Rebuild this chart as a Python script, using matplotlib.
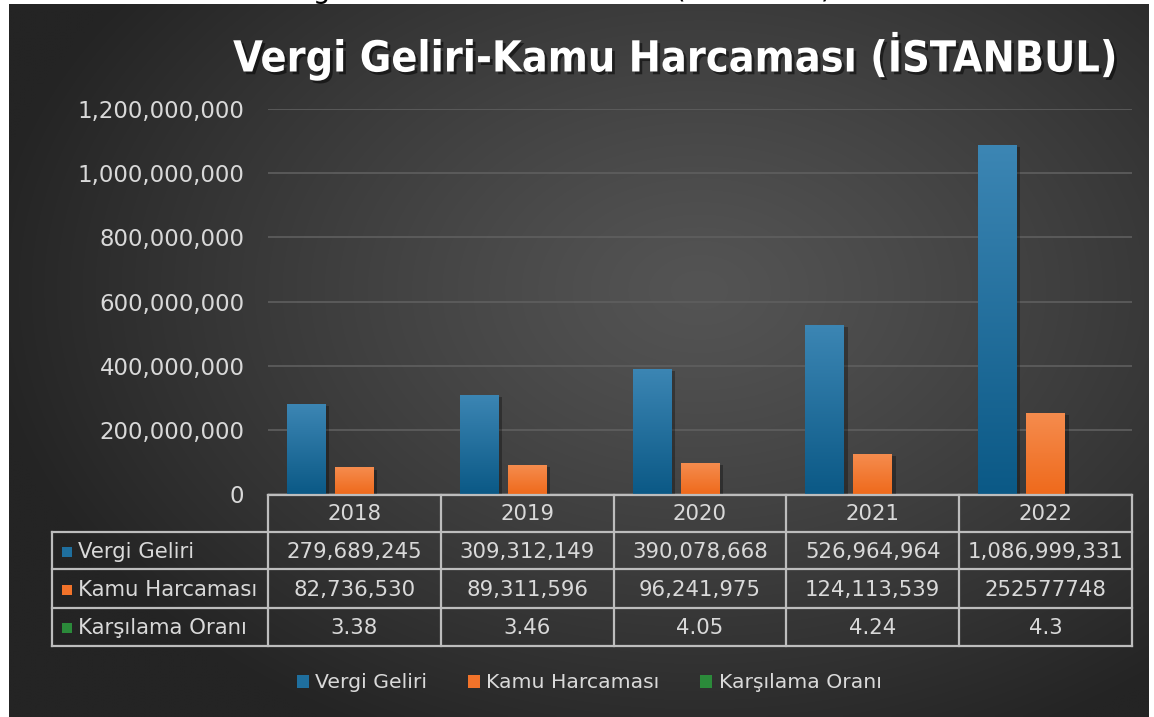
import numpy as np
import matplotlib
matplotlib.use("Agg")
import matplotlib.pyplot as plt
from matplotlib import patheffects as pe
from matplotlib.patches import Rectangle, Patch
from matplotlib.colors import LinearSegmentedColormap, to_rgb

# ---- data -------------------------------------------------------------
years = ["2018", "2019", "2020", "2021", "2022"]
vergi_geliri = [279689245, 309312149, 390078668, 526964964, 1086999331]
kamu_harcamasi = [82736530, 89311596, 96241975, 124113539, 252577748]
karsilama_orani = [3.38, 3.46, 4.05, 4.24, 4.3]
series_names = ["Vergi Geliri", "Kamu Harcaması", "Karşılama Oranı"]
y_ticks = [0, 200000000, 400000000, 600000000, 800000000, 1000000000, 1200000000]
title = "Vergi Geliri-Kamu Harcaması (İSTANBUL)"

# the 2022 spending cell is entered without thousands separators
kamu_plain = [False, False, False, False, True]

# ---- styling ----------------------------------------------------------
W, H = 1154, 717
TXT = "#d9d9d9"
GRID = "#5f5f5f"
BORDER = "#bdbdbd"
base_colors = ["#1f6f9e", "#f2732a", "#2b8a3a"]
grad_colors = [("#3c86b4", "#0b5986"), ("#f58c4e", "#ef6a1c"), ("#3a9a48", "#1f7a2e")]

fig = plt.figure(figsize=(W / 100, H / 100), dpi=100, facecolor="white")

# background layer in pixel coordinates
bg = fig.add_axes([0, 0, 1, 1], zorder=0)
bg.set_xlim(0, W)
bg.set_ylim(H, 0)
bg.axis("off")

x0, x1, y0, y1 = 9, 1149, 4, H
gx = np.linspace(x0, x1, 400)
gy = np.linspace(y0, y1, 260)
GX, GY = np.meshgrid(gx, gy)
d = np.sqrt(((GX - 700) / 720) ** 2 + ((GY - 290) / 500) ** 2)
t = np.clip(d, 0, 1) ** 1.2
inner = np.array(to_rgb("#545454"))
outer = np.array(to_rgb("#242424"))
img = inner[None, None, :] * (1 - t[..., None]) + outer[None, None, :] * t[..., None]
bg.imshow(img, extent=[x0, x1, y1, y0], aspect="auto", interpolation="bilinear")
bg.set_xlim(0, W)
bg.set_ylim(H, 0)

# ---- bar chart ---------------------------------------------------------
ax = fig.add_axes([268 / W, (H - 494) / H, 864 / W, 385 / H], zorder=1)
ax.patch.set_alpha(0)
x = np.arange(len(years))
offsets = [-0.278, 0.0, 0.278]
bar_w = 0.225
all_series = [vergi_geliri, kamu_harcamasi, karsilama_orani]

for s, vals in enumerate(all_series):
    bars = ax.bar(x + offsets[s], vals, width=bar_w, color=base_colors[s], zorder=3,
                  linewidth=0)
    cmap = LinearSegmentedColormap.from_list(f"g{s}", [grad_colors[s][1], grad_colors[s][0]])
    for rect in bars:
        rect.set_path_effects([pe.SimplePatchShadow(offset=(2.5, -1.5), shadow_rgbFace="black",
                                                    alpha=0.3), pe.Normal()])
        bx, bw, bh = rect.get_x(), rect.get_width(), rect.get_height()
        grad = np.linspace(0, 1, 128).reshape(-1, 1)
        im = ax.imshow(grad, extent=[bx, bx + bw, 0, bh], origin="lower", aspect="auto",
                       cmap=cmap, zorder=3.5, interpolation="bilinear")
        im.set_clip_path(rect)

ax.set_xlim(-0.5, len(years) - 0.5)
ax.set_ylim(0, 1200000000)
ax.set_aspect("auto")
ax.set_yticks(y_ticks)
ax.set_yticklabels([f"{v:,}" for v in y_ticks])
ax.set_xticks([])
ax.tick_params(axis="y", length=0, pad=17, labelsize=16.5, labelcolor=TXT)
for sp in ax.spines.values():
    sp.set_visible(False)
ax.yaxis.grid(True, color=GRID, linewidth=1.2)
ax.set_axisbelow(True)

# ---- data table --------------------------------------------------------
fg = fig.add_axes([0, 0, 1, 1], zorder=2)
fg.set_xlim(0, W)
fg.set_ylim(H, 0)
fg.axis("off")

edges = np.arange(len(years) + 1) - 0.5
col_px = ax.transData.transform(np.column_stack([edges, np.zeros_like(edges)]))[:, 0]
centers_px = (col_px[:-1] + col_px[1:]) / 2
left_px = 52
row_y = [495, 532, 569, 608, 646]
lw = 1.6
cell_fs = 15.3

fg.plot([col_px[0], col_px[-1]], [row_y[0], row_y[0]], color=BORDER, lw=lw)
for yy in row_y[1:]:
    fg.plot([left_px, col_px[-1]], [yy, yy], color=BORDER, lw=lw)
fg.plot([left_px, left_px], [row_y[1], row_y[-1]], color=BORDER, lw=lw)
for cx in col_px:
    fg.plot([cx, cx], [row_y[0], row_y[-1]], color=BORDER, lw=lw)

def fmt_cell(series_idx, j, v):
    if series_idx == 2:
        return f"{v:g}"
    if series_idx == 1 and kamu_plain[j]:
        return str(v)
    return f"{v:,}"

for j, yr in enumerate(years):
    fg.text(centers_px[j], (row_y[0] + row_y[1]) / 2 + 1, yr, ha="center", va="center",
            color=TXT, fontsize=cell_fs)

for s, vals in enumerate(all_series):
    yc = (row_y[s + 1] + row_y[s + 2]) / 2 + 1
    fg.add_patch(Rectangle((62, yc - 5), 10, 10, facecolor=base_colors[s], edgecolor="none"))
    fg.text(78, yc, series_names[s], ha="left", va="center", color=TXT, fontsize=cell_fs)
    for j, v in enumerate(vals):
        fg.text(centers_px[j], yc, fmt_cell(s, j, v), ha="center", va="center",
                color=TXT, fontsize=cell_fs)

# ---- legend ------------------------------------------------------------
handles = [Patch(facecolor=c, edgecolor="none") for c in base_colors]
fig.legend(handles, series_names, loc="center", ncol=3, frameon=False,
           bbox_to_anchor=(589 / W, 1 - 683 / H), fontsize=14.7, labelcolor=TXT,
           handlelength=0.6, handleheight=0.6, handletextpad=0.3, columnspacing=2.0)

# ---- title -------------------------------------------------------------
ttl = fig.text(675 / W, 1 - 56 / H, title, ha="center", va="center", color="white",
               fontweight="bold", fontstretch="condensed", fontsize=33,
               path_effects=[pe.SimplePatchShadow(offset=(2, -2), shadow_rgbFace="black",
                                                  alpha=0.5), pe.Normal()])
fig.canvas.draw()
tw = ttl.get_window_extent().width
if tw > 0:
    ttl.set_fontsize(33 * 886 / tw)

# caption line above the chart, mostly outside the canvas
fig.text(268 / W, 1 + 1.5 / H, title, ha="left", va="baseline", color="black", fontsize=20)

fig.savefig("out.png", dpi=100, facecolor="white")
